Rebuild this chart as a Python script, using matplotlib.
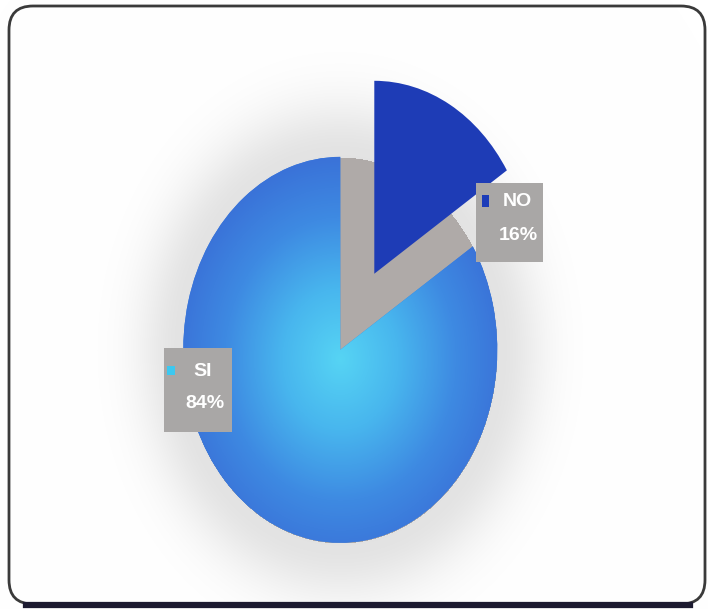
import numpy as np
import matplotlib.pyplot as plt
from matplotlib.patches import FancyBboxPatch, Rectangle
from matplotlib.colors import LinearSegmentedColormap

labels = ["NO", "SI"]
shares = [16, 84]
explode = [0.45, 0.0]
slice_colors = ["#1e3cb6", "#3a7ee0"]
key_colors = ["#1c3cb8", "#3cc8f0"]

W, H = 708, 609


def px(x, y):
    # pixel position from the top-left corner -> figure fraction
    return x / W, 1 - y / H


fig = plt.figure(figsize=(W / 100, H / 100), dpi=100)

# light grey halo behind the pie, warm grey in the gap between the slices
bg = fig.add_axes([0, 0, 1, 1])
bg.axis("off")
yy, xx = np.mgrid[0:H, 0:W]
r = np.sqrt(((xx - 340) / 157) ** 2 + ((yy - 350) / 193) ** 2)
halo = 1 - 0.11 * np.exp(-(np.clip(r - 1, 0, None) / 0.3) ** 2)
img = np.dstack([halo, halo, halo])
img[r < 1] = [0.69, 0.67, 0.66]
bg.imshow(img, extent=[0, 1, 0, 1], aspect="auto", origin="upper",
          interpolation="bilinear")
bg.set_xlim(0, 1)
bg.set_ylim(0, 1)

# pie axes, stretched vertically
ax = fig.add_axes([0.2034, 0.0296, 0.5544, 0.792])
wedges, _ = ax.pie(shares, explode=explode, colors=slice_colors,
                   startangle=90, counterclock=False,
                   wedgeprops=dict(linewidth=0))
ax.set_aspect("auto")
ax.set_xlim(-1.25, 1.25)
ax.set_ylim(-1.25, 1.25)

gx, gy = np.meshgrid(np.linspace(-1.25, 1.25, 500), np.linspace(-1.25, 1.25, 500))
si_cmap = LinearSegmentedColormap.from_list(
    "si", [(0, "#56d4f4"), (0.35, "#48b6ee"), (0.7, "#3e8ae2"), (1, "#3a72d8")])
im_si = ax.imshow(np.hypot(gx, gy + 0.05), cmap=si_cmap, vmin=0, vmax=1.05,
                  extent=[-1.25, 1.25, -1.25, 1.25], origin="lower",
                  aspect="auto", zorder=2)
im_si.set_clip_path(wedges[1])

# label boxes: box (x, y, w, h), key square (x, y, w, h), name centre, share centre
boxes = {
    "NO": ((476, 183, 67, 79), (482, 195, 7, 12), (517, 202), (518, 236)),
    "SI": ((164, 348, 68, 84), (167, 366, 8, 9), (203, 371), (205, 404)),
}
for lab, share, kc in zip(labels, shares, key_colors):
    (bx, by, bw, bh), (sx, sy, sw, sh), (nx, ny), (vx, vy) = boxes[lab]
    fig.add_artist(Rectangle(px(bx, by + bh), bw / W, bh / H, transform=fig.transFigure,
                             facecolor="#a9a7a6", edgecolor="none", zorder=3))
    fig.add_artist(Rectangle(px(sx, sy + sh), sw / W, sh / H, transform=fig.transFigure,
                             facecolor=kc, edgecolor="none", zorder=4))
    fig.text(*px(nx, ny), lab, color="white", fontsize=14, fontweight="bold",
             family="Liberation Sans", ha="center", va="center", zorder=5)
    fig.text(*px(vx, vy), f"{share}%", color="white", fontsize=14, fontweight="bold",
             family="Liberation Sans", ha="center", va="center", zorder=5)

# rounded frame with a heavy bottom edge
frame = FancyBboxPatch((9, 5), 696, 598, boxstyle="round,pad=0,rounding_size=24",
                       transform=None, facecolor="none", edgecolor="#3a3a3a",
                       linewidth=2.0, zorder=6)
fig.add_artist(frame)
fig.add_artist(plt.Line2D([26, 690], [4, 4], transform=None, color="#1c1a30",
                          linewidth=4.5, zorder=6))

fig.savefig("out.png", dpi=100)
